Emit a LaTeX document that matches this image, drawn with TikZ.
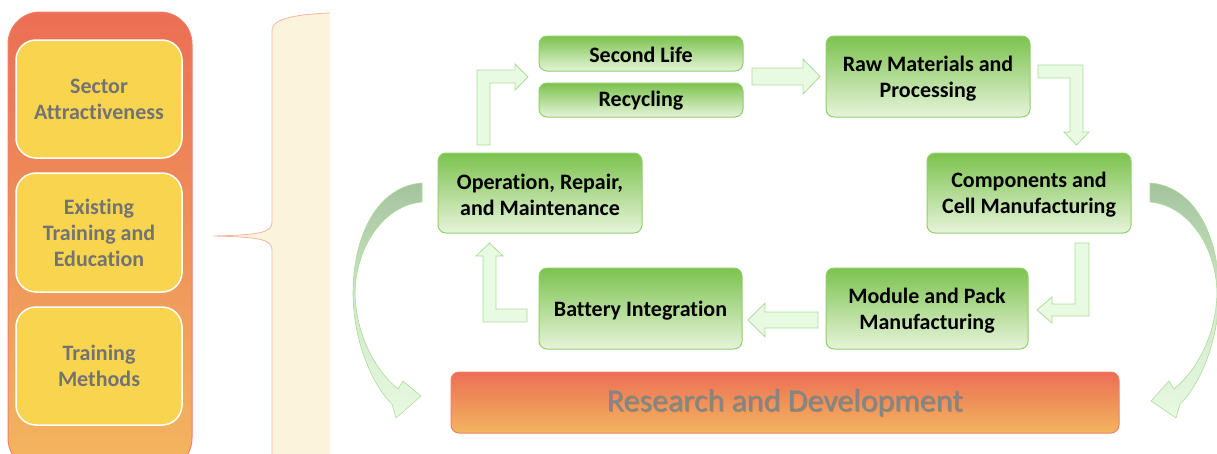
\documentclass[tikz,border=0pt]{standalone}
\usepackage{fontspec}
\setmainfont{Carlito}[Ligatures=NoCommon]
\definecolor{gTop}{HTML}{7CC24E}
\definecolor{gBot}{HTML}{E6F4DA}
\definecolor{gBorder}{HTML}{90CF6C}
\definecolor{aFill}{HTML}{E8FAE2}
\definecolor{aBorder}{HTML}{ADDC98}
\definecolor{cDark}{HTML}{A3C39D}
\definecolor{cMid}{HTML}{CFE8C9}
\definecolor{oTop}{HTML}{EC6E55}
\definecolor{oMid}{HTML}{EB8941}
\definecolor{oBot}{HTML}{F3B65F}
\definecolor{oBorder}{HTML}{EE8068}
\definecolor{yFill}{HTML}{F8D44F}
\definecolor{tGray}{HTML}{737373}
\definecolor{rdText}{HTML}{7C898A}
\definecolor{braceFill}{HTML}{FCF3DD}
\definecolor{braceLine}{HTML}{F4B5A5}
\tikzset{
  gbox/.style={rounded corners=8pt, draw=gBorder, line width=1pt, top color=gTop, bottom color=gBot,
    align=center, font=\bfseries\fontsize{22}{26}\selectfont, text=black, inner sep=0pt},
  gtext/.style={align=center, font=\bfseries\fontsize{22}{26}\selectfont, text=black, inner sep=0pt},
  ybox/.style={rounded corners=20pt, draw=white, line width=1.5pt, fill=yFill,
    align=center, font=\bfseries\fontsize{22}{26}\selectfont, text=tGray, inner sep=0pt,
    minimum width=166pt},
  blockarrow/.style={fill=aFill, draw=aBorder, line width=0.8pt, line join=miter},
  curvearrow/.style={top color=cDark, bottom color=aFill, middle color=cMid, draw=aBorder, line width=0.6pt}
}
\begin{document}
\begin{tikzpicture}[x=1pt,y=-1pt]
\useasboundingbox (0,0) rectangle (1217,453);
\clip (0,0) rectangle (1217,453);
% left panel
\path[rounded corners=32pt, draw=oBorder, line width=1pt, top color=oTop, middle color=oMid, bottom color=oBot]
  (8,12) rectangle (192,470);
\node[ybox, minimum height=118pt] (sector) at (99,99) {Sector\\Attractiveness};
\node[ybox, minimum height=119pt] (exist) at (99,232.5) {Existing\\Training and\\Education};
\node[ybox, minimum height=118pt] (methods) at (99,366) {Training\\Methods};
% brace
\fill[braceFill] (330,13) .. controls (300,14) and (272,18) .. (272,30) -- (272,222)
  .. controls (272,232) and (262,235) .. (213,236)
  .. controls (262,237) and (272,240) .. (272,250) -- (272,460) -- (330,460) -- cycle;
\draw[braceLine, line width=0.8pt] (330,13) .. controls (300,14) and (272,18) .. (272,30) -- (272,222)
  .. controls (272,232) and (262,235) .. (213,236)
  .. controls (262,237) and (272,240) .. (272,250) -- (272,460);
% curved arrows
\draw[curvearrow] (422,183) .. controls (378,186) and (353,235) .. (353,293)
  .. controls (353,340) and (372,385) .. (392,404)
  -- (396,418) -- (421,396) -- (403,381) -- (398,389)
  .. controls (375,370) and (356,335) .. (355,293)
  .. controls (356,245) and (385,205) .. (422,202) -- cycle;
\begin{scope}[xshift=1572pt, xscale=-1]
\draw[curvearrow] (422,183) .. controls (378,186) and (353,235) .. (353,293)
  .. controls (353,340) and (372,385) .. (392,404)
  -- (396,418) -- (421,401) -- (403,381) -- (398,389)
  .. controls (375,370) and (356,335) .. (355,293)
  .. controls (356,245) and (385,205) .. (422,202) -- cycle;
\end{scope}
% green boxes
\node[gbox, minimum width=204pt, minimum height=35pt] (second) at (641,53.5) {};
\node[gtext] at ([yshift=-1pt]second.center) {Second Life};
\node[gbox, minimum width=204pt, minimum height=34pt] (recyc) at (641,100) {};
\node[gtext] at ([yshift=-1pt]recyc.center) {Recycling};
\node[gbox, minimum width=204pt, minimum height=80pt] (oper) at (540,193) {};
\node[gtext] at ([yshift=-2pt]oper.center) {Operation, Repair,\\and Maintenance};
\node[gbox, minimum width=204pt, minimum height=81pt] (raw) at (928,76.5) {};
\node[gtext] at ([yshift=-2pt]raw.center) {Raw Materials and\\Processing};
\node[gbox, minimum width=204pt, minimum height=80pt] (comp) at (1029,193) {};
\node[gtext] at ([yshift=-2pt]comp.center) {Components and\\Cell Manufacturing};
\node[gbox, minimum width=203pt, minimum height=81pt] (batt) at (640.5,308.5) {};
\node[gtext] at ([yshift=-2pt]batt.center) {Battery Integration};
\node[gbox, minimum width=202pt, minimum height=81pt] (module) at (927,308.5) {};
\node[gtext] at ([yshift=-2pt]module.center) {Module and Pack\\Manufacturing};
% block arrows
\draw[blockarrow] (477,145) -- (477,70) -- (515,70) -- (515,64) -- (528,77) -- (515,90) -- (515,83) -- (490,83) -- (490,145) -- cycle;
\draw[blockarrow] (752,68) -- (803,68) -- (803,59) -- (820,76.5) -- (803,94) -- (803,85) -- (752,85) -- cycle;
\draw[blockarrow] (1038,65) -- (1083,65) -- (1083,132) -- (1089,132) -- (1076.5,145) -- (1064,132) -- (1070,132) -- (1070,78) -- (1038,78) -- cycle;
\draw[blockarrow] (1075,243) -- (1089,243) -- (1089,316) -- (1052,316) -- (1052,323) -- (1037,310) -- (1052,297) -- (1052,304) -- (1075,304) -- cycle;
\draw[blockarrow] (818,312) -- (765,312) -- (765,303) -- (748,320) -- (765,337) -- (765,328) -- (818,328) -- cycle;
\draw[blockarrow] (527,309) -- (496,309) -- (496,256) -- (503,256) -- (489.5,243) -- (476,256) -- (483,256) -- (483,322) -- (527,322) -- cycle;
% R&D bar
\node[rounded corners=8pt, draw=oBorder, line width=1pt, top color=oTop, middle color=oMid, bottom color=oBot,
  minimum width=668pt, minimum height=61pt, inner sep=0pt] (rd) at (785,402.5) {};
\node[text=gray!60!black, opacity=0.35, font=\fontsize{32}{38}\selectfont] at ([shift={(1,1)}]rd.center) {Research and Development};
\node[text=rdText, font=\fontsize{32}{38}\selectfont] (rdtext) at (rd.center) {Research and Development};
\end{tikzpicture}
\end{document}
